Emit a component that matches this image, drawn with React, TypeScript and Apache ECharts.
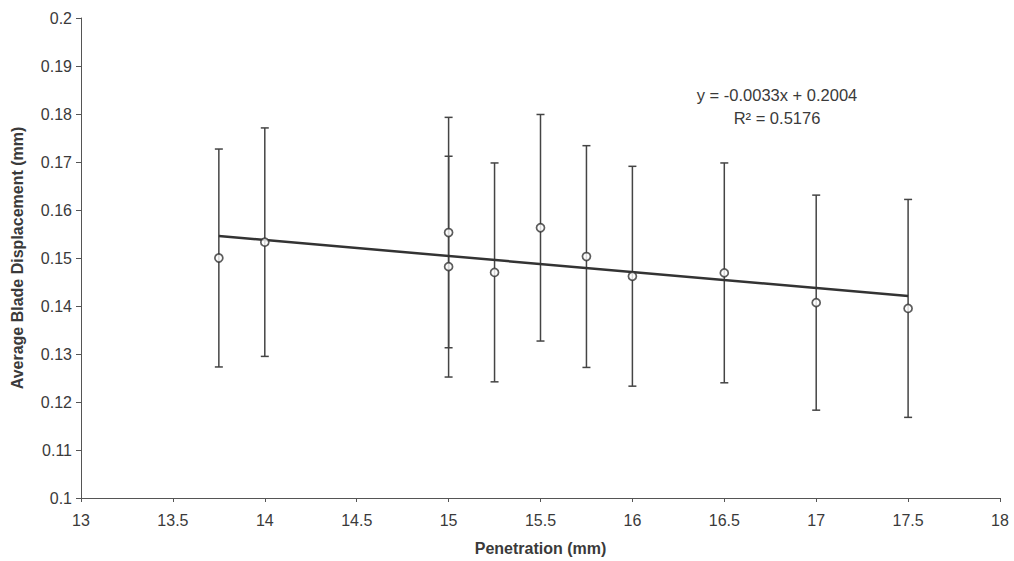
import React, { useEffect, useRef } from "react";
import * as echarts from "echarts";

const penetration = [13.75, 14, 15, 15, 15.25, 15.5, 15.75, 16, 16.5, 17, 17.5];
const displacement = [0.15, 0.1533, 0.1553, 0.1482, 0.147, 0.1563, 0.1503, 0.1462, 0.1469, 0.1407, 0.1395];
const errorHalf = [0.0227, 0.0238, 0.024, 0.023, 0.0228, 0.0236, 0.0231, 0.0229, 0.0229, 0.0224, 0.0227];
const equationText = "y = -0.0033x + 0.2004";
const r2Text = "R² = 0.5176";

const FONT = "'Liberation Sans', Arial, Helvetica, sans-serif";
const INK = "#3a3a3a";

function regression(xs: number[], ys: number[]) {
  const n = xs.length;
  const mx = xs.reduce((a, b) => a + b, 0) / n;
  const my = ys.reduce((a, b) => a + b, 0) / n;
  let sxy = 0;
  let sxx = 0;
  for (let i = 0; i < n; i++) {
    sxy += (xs[i] - mx) * (ys[i] - my);
    sxx += (xs[i] - mx) * (xs[i] - mx);
  }
  const slope = sxy / sxx;
  return { slope, intercept: my - slope * mx };
}

export default function App() {
  const ref = useRef<HTMLDivElement>(null);
  useEffect(() => {
    if (!ref.current) return;
    const chart = echarts.init(ref.current, undefined, { renderer: "svg" });
    const { slope, intercept } = regression(penetration, displacement);
    const xMin = Math.min(...penetration);
    const xMax = Math.max(...penetration);
    const points = penetration.map((x, i) => [x, displacement[i]]);
    const bars = penetration.map((x, i) => [x, displacement[i] - errorHalf[i], displacement[i] + errorHalf[i]]);

    chart.setOption({
      animation: false,
      backgroundColor: "#ffffff",
      grid: { left: 81, right: 14, top: 18, bottom: 62, containLabel: false },
      xAxis: {
        type: "value",
        min: 13,
        max: 18,
        interval: 0.5,
        name: "Penetration (mm)",
        nameLocation: "middle",
        nameGap: 42,
        nameTextStyle: { fontFamily: FONT, fontSize: 16, fontWeight: "bold", color: INK },
        axisLine: { lineStyle: { color: "#555", width: 1 } },
        axisTick: { show: true, length: 4, lineStyle: { color: "#555" } },
        axisLabel: { fontFamily: FONT, fontSize: 16, color: INK, margin: 14 },
        splitLine: { show: false },
      },
      yAxis: {
        type: "value",
        min: 0.1,
        max: 0.2,
        interval: 0.01,
        name: "Average Blade Displacement (mm)",
        nameLocation: "middle",
        nameGap: 56,
        nameTextStyle: { fontFamily: FONT, fontSize: 16, fontWeight: "bold", color: INK },
        axisLine: { show: true, lineStyle: { color: "#555", width: 1 } },
        axisTick: { show: true, length: 5, lineStyle: { color: "#555" } },
        axisLabel: {
          fontFamily: FONT,
          fontSize: 16,
          color: INK,
          margin: 9,
          formatter: (v: number) => String(parseFloat(v.toFixed(2))),
        },
        splitLine: { show: false },
      },
      graphic: [
        {
          type: "text",
          x: 777,
          y: 95,
          style: { text: equationText, fontFamily: FONT, fontSize: 16.5, fill: INK, textAlign: "center", textVerticalAlign: "middle" },
        },
        {
          type: "text",
          x: 777,
          y: 118,
          style: { text: r2Text, fontFamily: FONT, fontSize: 16.5, fill: INK, textAlign: "center", textVerticalAlign: "middle" },
        },
      ],
      series: [
        {
          type: "custom",
          data: bars,
          z: 2,
          renderItem: (params: any, api: any) => {
            const x = api.value(0);
            const lo = api.coord([x, api.value(1)]);
            const hi = api.coord([x, api.value(2)]);
            const cap = 4;
            const style = { stroke: "#444", lineWidth: 1.5 };
            return {
              type: "group",
              children: [
                { type: "line", shape: { x1: lo[0], y1: lo[1], x2: hi[0], y2: hi[1] }, style },
                { type: "line", shape: { x1: lo[0] - cap, y1: lo[1], x2: lo[0] + cap, y2: lo[1] }, style },
                { type: "line", shape: { x1: hi[0] - cap, y1: hi[1], x2: hi[0] + cap, y2: hi[1] }, style },
              ],
            };
          },
        },
        {
          type: "line",
          data: [
            [xMin, slope * xMin + intercept],
            [xMax, slope * xMax + intercept],
          ],
          showSymbol: false,
          symbol: "none",
          lineStyle: { color: "#333", width: 2.5 },
          z: 3,
        },
        {
          type: "scatter",
          data: points,
          symbol: "circle",
          symbolSize: 8,
          itemStyle: { color: "#ffffff", borderColor: "#333", borderWidth: 1.7 },
          z: 4,
        },
      ],
    });
    return () => chart.dispose();
  }, []);
  return <div ref={ref} style={{ width: 1014, height: 561, position: "absolute", left: 0, top: 0 }} />;
}
